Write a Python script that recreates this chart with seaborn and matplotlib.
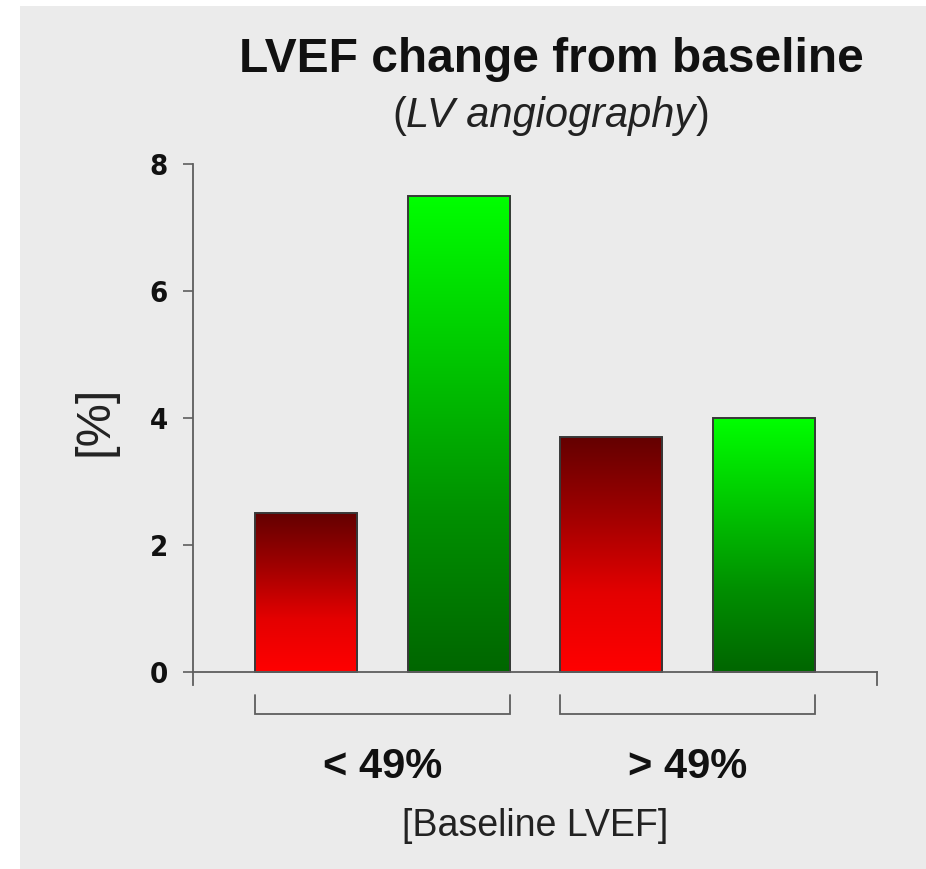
import numpy as np
import pandas as pd
import matplotlib
matplotlib.use("Agg")
import matplotlib.pyplot as plt
from matplotlib.colors import LinearSegmentedColormap
from matplotlib.patches import Rectangle
import seaborn as sns

# Mean LVEF change (%) by baseline LVEF stratum
groups = ["< 49%", "> 49%"]
arms = ["Control", "Treatment"]
control_change = [2.5, 3.7]
treatment_change = [7.5, 4.0]
y_ticks = [0, 2, 4, 6, 8]

df = pd.DataFrame({
    "Baseline LVEF": groups + groups,
    "Arm": [arms[0]] * len(groups) + [arms[1]] * len(groups),
    "Change": control_change + treatment_change,
})

sns.set_theme(style="ticks")
plt.rcParams["font.family"] = ["Liberation Sans", "DejaVu Sans"]

W, H = 926, 869
fig = plt.figure(figsize=(W / 100, H / 100), dpi=100)
fig.patch.set_facecolor("white")
fig.add_artist(Rectangle((20 / W, 0), 1, 1 - 6 / H, transform=fig.transFigure,
                         facecolor="#ebebeb", edgecolor="none", zorder=-10))

ax = fig.add_axes([193 / W, 184 / H, 684 / W, 521 / H])
ax.set_facecolor("none")

sns.barplot(data=df, x="Baseline LVEF", y="Change", hue="Arm",
            order=groups, hue_order=arms, palette=["#ff0000", "#00ff00"],
            width=1.0, gap=0.33, edgecolor="#383838", linewidth=1.4,
            legend=False, ax=ax)

ymin = -13 / 63.5
xlim = (-0.62, 1.62)

# Vertical gradient fills clipped to each bar
red_cmap = LinearSegmentedColormap.from_list("red_grad", ["#ff0000", "#e40000", "#a00000", "#640000"])
green_cmap = LinearSegmentedColormap.from_list("green_grad", ["#006600", "#009000", "#00c800", "#00ff00"])
grad = np.linspace(0, 1, 256).reshape(-1, 1)
bars = list(ax.patches)
for p in bars:
    fc = p.get_facecolor()
    cmap = red_cmap if fc[0] > fc[1] else green_cmap
    x0, y0, w, h = p.get_x(), p.get_y(), p.get_width(), p.get_height()
    im = ax.imshow(grad, cmap=cmap, origin="lower", aspect="auto",
                   extent=[x0, x0 + w, y0, y0 + h], zorder=1.5, interpolation="bilinear")
    im.set_clip_path(p)
    p.set_facecolor("none")
    p.set_zorder(2)

ax.set_xlim(*xlim)
ax.set_ylim(ymin, 8)

# Axis styling
spine_c = "#5e5e5e"
for side in ["left", "bottom", "right"]:
    ax.spines[side].set_visible(True)
    ax.spines[side].set_color(spine_c)
    ax.spines[side].set_linewidth(1.3)
ax.spines["top"].set_visible(False)
ax.spines["bottom"].set_position(("data", 0))
ax.spines["left"].set_bounds(ymin, 8)
ax.spines["right"].set_bounds(ymin, 0)

ax.set_yticks(y_ticks)
ax.set_yticklabels([str(t) for t in y_ticks], fontsize=21, fontweight="bold",
                   fontstretch="condensed", family=["DejaVu Sans"])
ax.tick_params(axis="y", left=True, right=False, length=7, width=1.2,
               color=spine_c, pad=11, labelcolor="#111111")
ax.tick_params(axis="x", bottom=False, length=0, pad=54, labelsize=30, labelcolor="#111111")
for lbl in ax.get_xticklabels():
    lbl.set_fontweight("bold")

# Group brackets under each pair of bars
for g in range(len(groups)):
    members = [p for p in bars if abs(p.get_x() + p.get_width() / 2 - g) < 0.5]
    left = min(p.get_x() for p in members)
    right = max(p.get_x() + p.get_width() for p in members)
    ax.plot([left, left, right, right], [-0.36, -0.66, -0.66, -0.36],
            color=spine_c, lw=1.3, clip_on=False, solid_joinstyle="miter")

ax.set_xlabel("[Baseline LVEF]", fontsize=27, color="#222222", labelpad=15)
ax.set_ylabel("[%]", fontsize=35, color="#222222", va="center")
ax.yaxis.set_label_coords((95 - 193) / 684, (H - 421 - 184) / 521)

# Title block
cx = 551 / W
fig.text(cx, 1 - 72 / H, "LVEF change from baseline", ha="center", va="baseline",
         fontsize=34.5, fontweight="bold", color="#111111")
sub = fig.text(cx, 1 - 127 / H, "LV angiography", ha="center", va="baseline",
               fontsize=30, fontstyle="italic", color="#222222")
fig.canvas.draw()
ax.annotate("(", xy=(0, 0), xycoords=sub, ha="right", va="bottom",
            fontsize=30, color="#222222", annotation_clip=False)
ax.annotate(")", xy=(1, 0), xycoords=sub, ha="left", va="bottom",
            fontsize=30, color="#222222", annotation_clip=False)

fig.savefig("out.png", dpi=100, facecolor=fig.get_facecolor())
